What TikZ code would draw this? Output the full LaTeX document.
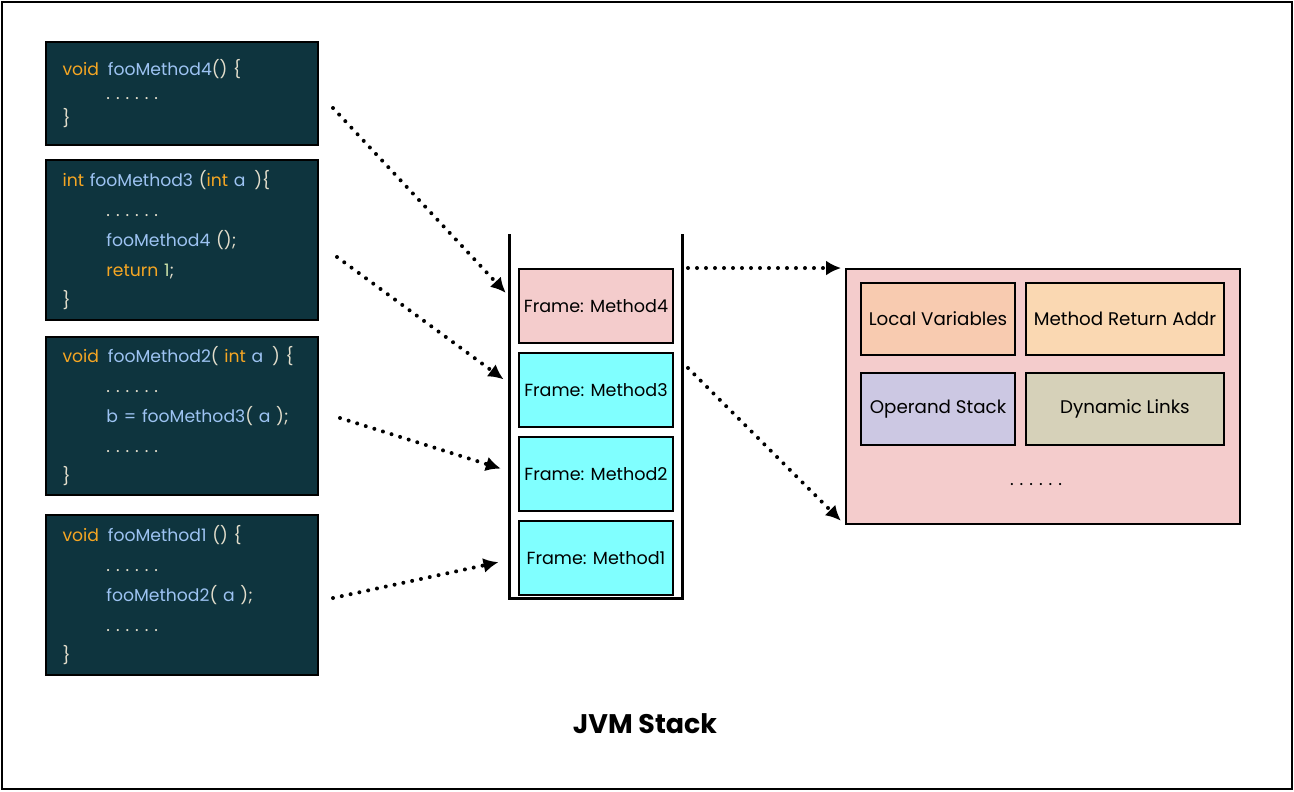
\documentclass[tikz,border=0pt]{standalone}
\usepackage{fontspec}
\setmainfont{Poppins}
\usetikzlibrary{positioning,arrows.meta}

\definecolor{codebg}{HTML}{0E343E}
\definecolor{codepun}{HTML}{E2DDCB}
\definecolor{kwcol}{HTML}{F5A623}
\definecolor{idcol}{HTML}{9DC3F2}
\definecolor{numcol}{HTML}{C8E0A8}
\definecolor{framepink}{HTML}{F4CCCC}
\definecolor{framecyan}{HTML}{80FFFF}
\definecolor{lvcol}{HTML}{F8CBB0}
\definecolor{mracol}{HTML}{FAD8B2}
\definecolor{oscol}{HTML}{CCC8E3}
\definecolor{dlcol}{HTML}{D6D1B9}

\newcommand{\kwd}[1]{\textcolor{kwcol}{#1}}
\newcommand{\idf}[1]{\textcolor{idcol}{#1}}
\newcommand{\numl}[1]{\textcolor{numcol}{#1}}
\newcommand{\dotsrow}{.\hspace{3.4pt}.\hspace{3.4pt}.\hspace{3.4pt}.\hspace{3.4pt}.\hspace{3.4pt}.}
\newcommand{\ind}{\hspace*{25pt}}
\newcommand{\gap}{\hspace{5pt}}

\tikzset{
    codebox/.style={draw=black, line width=0.04cm, fill=codebg, text=codepun,
        align=left, text width=136pt, inner xsep=9pt, minimum width=5.44cm,
        font=\fontsize{9.8}{17}\selectfont},
    framebox/.style={draw=black, line width=0.04cm, minimum width=3.08cm,
        minimum height=1.48cm, inner sep=0pt, font=\fontsize{10}{12}\selectfont},
    slot/.style={draw=black, line width=0.04cm, minimum height=1.44cm,
        inner sep=0pt, font=\fontsize{10.4}{12}\selectfont},
    call/.style={line width=0.08cm, line cap=round, dash pattern=on 0pt off 0.18cm,
        -{Latex[length=0.3cm,width=0.3cm]}}
}

\begin{document}
\begin{tikzpicture}[x=0.02cm, y=-0.02cm]
    \useasboundingbox (0,0) rectangle (1294,791);
    \draw[line width=0.04cm] (2,2) rectangle (1292,789);

    % code of the four methods
    \node[codebox, minimum height=2.06cm, font=\fontsize{9.8}{14}\selectfont] (code4) at (182,93.5)
        {\mbox{\kwd{void}\gap\idf{fooMethod4}() \{}\\ \ind\dotsrow\\ \}};
    \node[codebox, minimum height=3.2cm] (code3) at (182,240)
        {\mbox{\kwd{int} \idf{fooMethod3} (\kwd{int} \idf{a}\gap)\{}\\ \ind\dotsrow\\ \ind\idf{fooMethod4} ();\\ \ind\kwd{return} \numl{1};\\ \}};
    \node[codebox, minimum height=3.16cm] (code2) at (182,416)
        {\mbox{\kwd{void}\gap\idf{fooMethod2}( \kwd{int} \idf{a}\gap) \{}\\ \ind\dotsrow\\ \ind\idf{b = fooMethod3}( \idf{a} );\\ \ind\dotsrow\\ \}};
    \node[codebox, minimum height=3.2cm] (code1) at (182,595)
        {\mbox{\kwd{void}\gap\idf{fooMethod1} () \{}\\ \ind\dotsrow\\ \ind\idf{fooMethod2}( \idf{a} );\\ \ind\dotsrow\\ \}};

    % the stack
    \draw[line width=0.06cm] (509,234) -- (509,598) -- (682,598) -- (682,234);
    \node[framebox, fill=framepink] (m4) at (596,306) {Frame: Method4};
    \node[framebox, fill=framecyan, below=0.16cm of m4] (m3) {Frame: Method3};
    \node[framebox, fill=framecyan, below=0.16cm of m3] (m2) {Frame: Method2};
    \node[framebox, fill=framecyan, below=0.16cm of m2] (m1) {Frame: Method1};

    % inside a frame
    \node[draw=black, line width=0.04cm, fill=framepink, minimum width=7.88cm,
        minimum height=5.1cm] (detail) at (1043,396.5) {};
    \node[slot, fill=lvcol, minimum width=3.08cm] (locals) at (938,319) {Local Variables};
    \node[slot, fill=mracol, minimum width=3.96cm, right=0.18cm of locals] (retaddr) {Method Return Addr};
    \node[slot, fill=oscol, minimum width=3.08cm, below=0.32cm of locals] (operands) {Operand Stack};
    \node[slot, fill=dlcol, minimum width=3.96cm, right=0.18cm of operands] (links) {Dynamic Links};
    \node[font=\fontsize{10}{12}\selectfont] (more) at (1036,485) {\dotsrow};

    \node[font=\bfseries\fontsize{15.3}{18}\selectfont] (title) at (645,724) {JVM Stack};

    % calls
    \coordinate (t4) at (333,108);
    \coordinate (t3) at (337,257);
    \coordinate (t2) at (340,418);
    \coordinate (t1) at (333,598);
    \coordinate (ttop) at (688,268);
    \coordinate (tbot) at (688,368);
    \draw[call, shorten >=0.36cm] (t4) -- (m4.west);
    \draw[call, shorten >=0.36cm] (t3) -- (m3.west);
    \draw[call, shorten >=0.36cm] (t2) -- (m2.west);
    \draw[call, shorten >=0.4cm] (t1) -- (m1.west);
    \draw[call, shorten >=0.08cm] (ttop) -- (detail.north west);
    \draw[call, shorten >=0.12cm] (tbot) -- (detail.south west);
\end{tikzpicture}
\end{document}
